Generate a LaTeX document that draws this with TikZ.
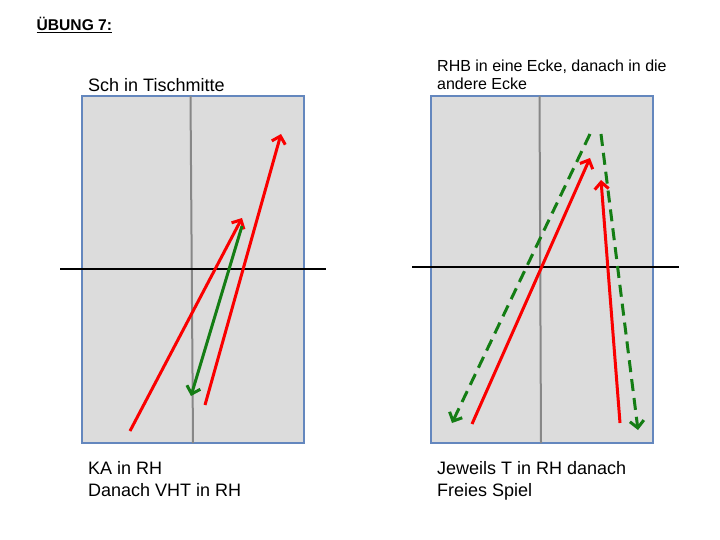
\documentclass[tikz,border=0pt]{standalone}
\usepackage{fontspec}
\setmainfont{Liberation Sans}
\usetikzlibrary{arrows.meta}
\definecolor{boxfill}{RGB}{220,220,220}
\definecolor{boxedge}{RGB}{100,135,190}
\definecolor{midline}{RGB}{135,135,135}
\definecolor{arrred}{RGB}{250,0,0}
\definecolor{arrgreen}{RGB}{20,125,20}
\tikzset{
  field/.style={fill=boxfill, draw=boxedge, line width=1.5pt},
  centreline/.style={draw=midline, line width=2pt},
  crossline/.style={draw=black, line width=2pt},
  redarrow/.style={draw=arrred, line width=3pt, -{Straight Barb[length=7pt,width=14pt,line width=3pt]}},
  greenarrow/.style={draw=arrgreen, line width=3pt, -{Straight Barb[length=7pt,width=14pt,line width=3pt]}},
  greendash/.style={greenarrow, dash pattern=on 12pt off 7pt},
  label/.style={anchor=base west, inner sep=0pt, font=\fontsize{18}{21.6}\selectfont, align=left}
}
\begin{document}
\begin{tikzpicture}[x=1pt,y=-1pt]
\useasboundingbox (0,0) rectangle (720,540);
% title
\node[anchor=base west, inner sep=0pt, font=\fontsize{15.6}{18}\bfseries] (title) at (36.5,30.5) {\underline{ÜBUNG 7:}};
% left field
\draw[field] (82,96) rectangle (304,443);
\coordinate (lt) at (190.5,96); \coordinate (lb) at (193,443);
\draw[centreline] (lt) -- (lb);
\coordinate (lh1) at (60,269); \coordinate (lh2) at (326,269);
\draw[crossline] (lh1) -- (lh2);
% right field
\draw[field] (431,96) rectangle (653,443);
\coordinate (rt) at (539.5,96); \coordinate (rb) at (541,443);
\draw[centreline] (rt) -- (rb);
\coordinate (rh1) at (412,267); \coordinate (rh2) at (679,267);
\draw[crossline] (rh1) -- (rh2);
% left arrows
\coordinate (a1s) at (130,431); \coordinate (a1e) at (242,218);
\coordinate (a2s) at (205,405); \coordinate (a2e) at (281,134);
\coordinate (g1s) at (242,226); \coordinate (g1e) at (191,396);
\draw[redarrow] (a1s) -- (a1e);
\draw[redarrow] (a2s) -- (a2e);
\draw[greenarrow] (g1s) -- (g1e);
% right arrows
\coordinate (d1s) at (590,134); \coordinate (d1e) at (452,423);
\coordinate (d2s) at (601,134); \coordinate (d2e) at (638,430);
\coordinate (r3s) at (472,424); \coordinate (r3e) at (590,158);
\coordinate (r4s) at (620,423); \coordinate (r4e) at (601,180);
\draw[greendash] (d1s) -- (d1e);
\draw[greendash] (d2s) -- (d2e);
\draw[redarrow] (r3s) -- (r3e);
\draw[redarrow] (r4s) -- (r4e);
% labels (multi-line nodes: base anchor is the last line)
\node[label] (ltop) at (88,91.5) {Sch in Tischmitte};
\node[label, font=\fontsize{16}{18}\selectfont] (rtop) at (437,90) {RHB in eine Ecke, danach in die\\andere Ecke};
\node[label] (lbot) at (88,496.5) {KA in RH\\Danach VHT in RH};
\node[label] (rbot) at (437,496.5) {Jeweils T in RH danach\\Freies Spiel};
\end{tikzpicture}
\end{document}
